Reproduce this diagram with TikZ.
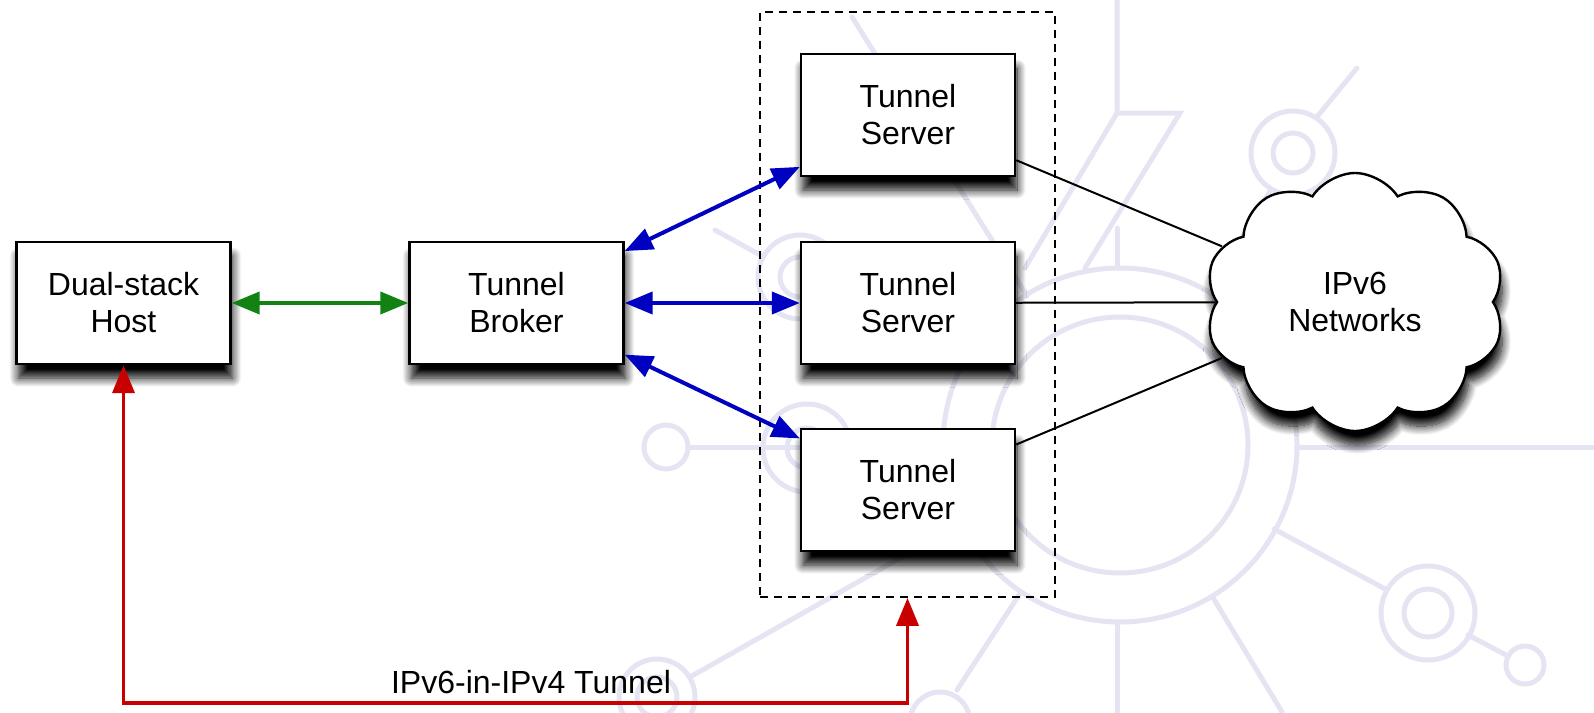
\documentclass[tikz,border=0pt]{standalone}
\usepackage{fontspec}
\setmainfont{Liberation Sans}
\usetikzlibrary{shapes.symbols, shadows.blur, arrows.meta}

\definecolor{wmark}{RGB}{228,228,242}
\definecolor{linkgreen}{RGB}{18,130,18}
\definecolor{linkblue}{RGB}{0,0,192}
\definecolor{tunnelred}{RGB}{200,0,0}

\begin{document}
\begin{tikzpicture}[x=0.5pt, y=-0.5pt]
    % --- Styles ---
    \tikzstyle{box}=[draw=black, line width=1.2pt, fill=white, minimum width=107pt, minimum height=61pt,
        align=center, font=\fontsize{16pt}{18.5pt}\selectfont,
        blur shadow={shadow xshift=1pt, shadow yshift=-7pt, shadow blur radius=4.5pt, shadow blur steps=12, shadow opacity=100}]
    \tikzstyle{netcloud}=[cloud, cloud puffs=10, cloud puff arc=115, aspect=1.2, draw=black, line width=1.2pt,
        fill=white, minimum width=150pt, minimum height=129pt, align=center, font=\fontsize{16pt}{18.5pt}\selectfont,
        blur shadow={shadow xshift=1pt, shadow yshift=-7pt, shadow blur radius=4.5pt, shadow blur steps=12, shadow opacity=100}]
    \tikzstyle{group}=[draw=black, line width=0.9pt, dash pattern=on 4pt off 3pt, minimum width=147.5pt, minimum height=292.5pt]
    \tikzstyle{hostlink}=[{Triangle[length=14pt, width=11pt]}-{Triangle[length=14pt, width=11pt]}, line width=2pt, color=linkgreen]
    \tikzstyle{serverlink}=[{Triangle[length=14pt, width=11pt]}-{Triangle[length=14pt, width=11pt]}, line width=2pt, color=linkblue]
    \tikzstyle{tunnel}=[{Triangle[length=14pt, width=11pt]}-{Triangle[length=14pt, width=11pt]}, line width=1.9pt, color=tunnelred]
    \tikzstyle{uplink}=[line width=1pt, color=black]
    \tikzstyle{wm}=[line width=2.5pt, color=wmark, line cap=round]

    \useasboundingbox (0,0) rectangle (1594,712);

    % --- 1. Background logo ---
    \draw[wm] (1120,445) circle[radius=64pt];
    \draw[wm] (1120,445) circle[radius=88.5pt];
    \draw[wm] (688,447) -- (943,447);
    \draw[wm] (1297,447) -- (1594,447);
    \draw[wm] (666,447) circle[radius=11pt];
    \draw[wm] (807,448) circle[radius=22pt];
    \draw[wm] (807,448) circle[radius=10pt];
    \draw[wm] (800,277) circle[radius=21pt];
    \draw[wm] (800,277) circle[radius=10pt];
    \draw[wm] (715,230) -- (762,256);
    \draw[wm] (838,297) -- (964,363);
    \draw[wm] (1027,296) -- (852,17);
    \draw[wm] (1117,0) -- (1117,113) -- (1180,113) -- (1085,268);
    \draw[wm] (1117,113) -- (1025,268);
    \draw[wm] (1117,228) -- (1117,268);
    \draw[wm] (1293,153) circle[radius=21pt];
    \draw[wm] (1293,153) circle[radius=10pt];
    \draw[wm] (1210,293) -- (1270,191);
    \draw[wm] (1316,118) -- (1357,68);
    \draw[wm] (1428,613) circle[radius=23.5pt];
    \draw[wm] (1428,613) circle[radius=12pt];
    \draw[wm] (1274,529) -- (1387,590);
    \draw[wm] (1468,635) -- (1508,656);
    \draw[wm] (1525,665) circle[radius=9.5pt];
    \draw[wm] (1117,622) -- (1117,712);
    \draw[wm] (1212,596) -- (1282,712);
    \draw[wm] (1021,592) -- (957,690);
    \draw[wm] (940,722) circle[radius=15pt];
    \draw[wm] (962,523) -- (690,677);
    \draw[wm] (657,697) circle[radius=19pt];
    \draw[wm] (657,697) circle[radius=10pt];

    % --- 2. Server group ---
    \node[group] (grp) at (907.5,304.5) {};

    % --- 3. Hosts and servers ---
    \node[box] (host) at (123.5,303) {Dual-stack\\Host};
    \node[box] (broker) at (516.5,303) {Tunnel\\Broker};
    \node[box] (ts1) at (908,115) {Tunnel\\Server};
    \node[box] (ts2) at (908,303) {Tunnel\\Server};
    \node[box] (ts3) at (908,490) {Tunnel\\Server};
    \node[netcloud] (net) at (1355,302) {IPv6\\Networks};

    % --- 4. Links ---
    \draw[hostlink] (host) -- (broker);
    \draw[serverlink] (broker) -- (ts1);
    \draw[serverlink] (broker) -- (ts2);
    \draw[serverlink] (broker) -- (ts3);
    \draw[uplink] (ts1) -- (net);
    \draw[uplink] (ts2) -- (net);
    \draw[uplink] (ts3) -- (net);

    % --- 5. Tunnel ---
    \coordinate (tunnelbase) at (531,703);
    \draw[tunnel] (host.south) |- (tunnelbase) -| (grp.south);
    \node[above, inner sep=4.5pt, font=\fontsize{16pt}{18.5pt}\selectfont] (tunnellabel) at (tunnelbase) {IPv6-in-IPv4 Tunnel};

\end{tikzpicture}
\end{document}
